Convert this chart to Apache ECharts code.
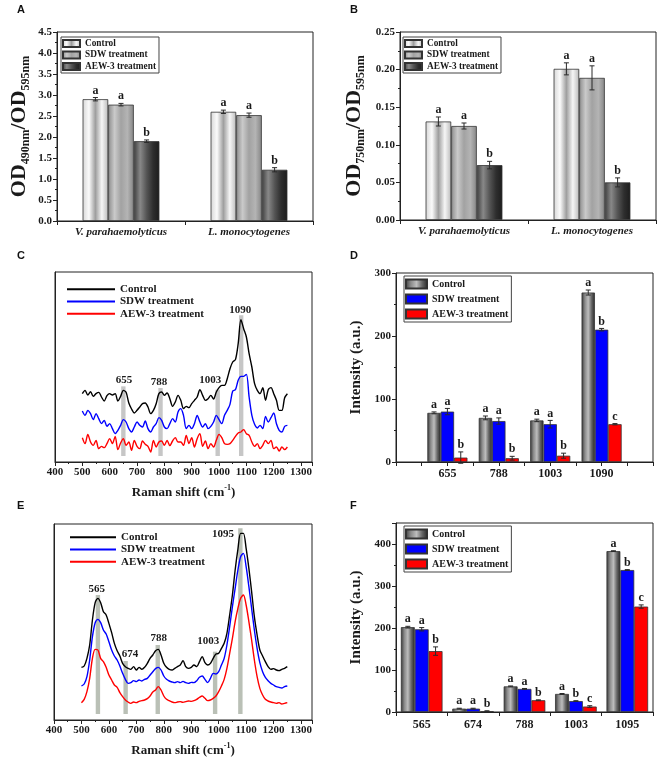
<!DOCTYPE html>
<html>
<head>
<meta charset="utf-8">
<script src="https://cdn.jsdelivr.net/npm/echarts@6/dist/echarts.min.js"></script>
<style>
html, body { margin: 0; padding: 0; background: #fff; }
#fig { width: 666px; height: 759px; }
</style>
</head>
<body>
<div id="fig"></div>
<script>
// ---------------- data ----------------
var treatments = ['Control', 'SDW treatment', 'AEW-3 treatment'];
var strains = ['V. parahaemolyticus', 'L. monocytogenes'];

// A : OD490/OD595 (rows = treatment, cols = strain)
var odA = [[2.90, 2.60], [2.77, 2.52], [1.90, 1.22]];
var odAErr = [[0.04, 0.04], [0.03, 0.05], [0.03, 0.05]];
var odALetters = [['a', 'a'], ['a', 'a'], ['b', 'b']];

// B : OD750/OD595
var odB = [[0.131, 0.201], [0.125, 0.189], [0.073, 0.050]];
var odBErr = [[0.006, 0.008], [0.004, 0.016], [0.005, 0.006]];
var odBLetters = [['a', 'a'], ['a', 'a'], ['b', 'b']];

// C / E : Raman spectra (arbitrary offset units)
var ramanShift = [500, 510, 520, 530, 540, 550, 560, 570, 580, 590,
  600, 610, 620, 630, 640, 650, 660, 670, 680, 690,
  700, 710, 720, 730, 740, 750, 760, 770, 780, 790,
  800, 810, 820, 830, 840, 850, 860, 870, 880, 890,
  900, 910, 920, 930, 940, 950, 960, 970, 980, 990,
  1000, 1010, 1020, 1030, 1040, 1050, 1060, 1070, 1080, 1090,
  1100, 1110, 1120, 1130, 1140, 1150, 1160, 1170, 1180, 1190,
  1200, 1210, 1220, 1230, 1240, 1250];

var specCControl = [205, 215, 201, 211, 197, 205, 209, 195, 183, 199,
  205, 201, 205, 183, 197, 215, 209, 177, 159, 147,
  155, 165, 175, 177, 165, 145, 155, 175, 205, 210,
  200, 207, 190, 167, 180, 200, 185, 160, 167, 163,
  175, 185, 195, 217, 200, 185, 190, 200, 189, 210,
  223, 230, 230, 250, 280, 300, 307, 355, 427, 400,
  375, 325, 285, 235, 215, 205, 223, 185, 217, 223,
  205, 185, 155, 155, 193, 205];
var specCSdw = [153, 140, 155, 145, 127, 145, 130, 115, 125, 107,
  115, 100, 85, 95, 110, 127, 120, 100, 90, 105,
  120, 110, 105, 123, 100, 90, 105, 115, 133, 125,
  105, 100, 115, 130, 120, 150, 160, 140, 100, 110,
  100, 115, 140, 120, 105, 115, 100, 107, 120, 140,
  127, 115, 140, 155, 173, 213, 217, 245, 257, 257,
  263, 195, 140, 113, 102, 110, 100, 137, 120, 133,
  147, 115, 95, 90, 107, 110];
var specCAew = [73, 55, 83, 60, 50, 65, 40, 47, 43, 55,
  70, 55, 77, 37, 57, 70, 50, 60, 35, 65,
  47, 40, 63, 53, 47, 30, 65, 45, 60, 63,
  50, 65, 49, 63, 73, 60, 60, 50, 80, 55,
  73, 45, 70, 85, 47, 63, 40, 55, 45, 65,
  83, 73, 55, 53, 55, 65, 77, 87, 90, 97,
  85, 80, 60, 47, 55, 40, 50, 65, 55, 65,
  40, 45, 33, 45, 37, 45];
var peaksC = ['655', '788', '1003', '1090'];
var bandsC = [650, 786, 995, 1081];
var bandTopsC = [227, 222, 217, 440];
var peakLabelXC = [652, 780, 968, 1078];
var peakLabelYC = [245, 240, 245, 457];

var specEControl = [158, 162, 185, 225, 300, 352, 365, 352, 325, 315,
  290, 262, 230, 208, 192, 170, 160, 155, 152, 160,
  150, 158, 152, 158, 170, 185, 195, 208, 212, 195,
  170, 158, 152, 150, 155, 160, 165, 178, 160, 155,
  158, 165, 160, 175, 190, 172, 165, 170, 185, 198,
  200, 215, 230, 260, 315, 375, 450, 512, 560, 560,
  515, 455, 385, 310, 255, 210, 192, 175, 160, 152,
  154, 150, 148, 152, 155, 160];
var specESdw = [102, 108, 130, 180, 250, 292, 302, 292, 270, 258,
  235, 210, 192, 180, 162, 140, 122, 110, 112, 118,
  115, 120, 117, 122, 125, 135, 145, 154, 158, 150,
  132, 122, 117, 114, 112, 115, 112, 116, 112, 110,
  113, 112, 118, 128, 132, 122, 112, 125, 140, 138,
  145, 165, 185, 225, 280, 340, 395, 450, 490, 500,
  460, 400, 335, 270, 215, 172, 145, 128, 118, 110,
  105, 100, 98, 96, 100, 102];
var specEAew = [52, 62, 85, 125, 185, 212, 210, 185, 175, 158,
  135, 120, 105, 98, 82, 70, 60, 54, 50, 54,
  52, 56, 58, 60, 64, 72, 84, 90, 100, 90,
  72, 62, 58, 54, 52, 54, 55, 53, 55, 57,
  56, 58, 62, 68, 72, 65, 58, 60, 65, 72,
  85, 102, 122, 155, 200, 245, 295, 335, 365, 375,
  345, 295, 240, 180, 130, 95, 75, 62, 57, 54,
  52, 50, 52, 48, 50, 52];
var peaksE = ['565', '674', '788', '1003', '1095'];
var bandsE = [560, 661, 778, 987, 1079];
var bandTopsE = [375, 177, 225, 205, 575];
var peakLabelXE = [556, 677, 782, 962, 1016];
var peakLabelYE = [392, 198, 245, 237, 557];

// D : band intensities
var peaksD = ['655', '788', '1003', '1090'];
var intensD = [[78, 70, 66, 269], [80, 65, 60, 210], [7, 6, 10, 60]];
var intensDErr = [[1.5, 3, 2, 4], [5, 5, 6, 2], [9, 3, 4, 1]];
var intensDLetters = [['a', 'a', 'a', 'a'], ['a', 'a', 'a', 'b'], ['b', 'b', 'b', 'c']];

// F : band intensities
var peaksF = ['565', '674', '788', '1003', '1095'];
var intensF = [[202, 8, 61, 43, 383], [197, 8, 55, 26, 338], [145, 2, 28, 13, 251]];
var intensFErr = [[2, 1, 1, 1, 1], [4, 1, 1, 1, 1], [10, 1, 1, 2, 4]];
var intensFLetters = [['a', 'a', 'a', 'a', 'a'], ['a', 'a', 'a', 'b', 'b'], ['b', 'b', 'b', 'c', 'c']];

// ---------------- styles ----------------
var serif = '"Liberation Serif", "Times New Roman", serif';
var ink = '#1a1a1a';

function grad(stops) {
    return {
        type: 'linear', x: 0, y: 0, x2: 1, y2: 0,
        colorStops: stops.map(function (c, i) { return { offset: i / (stops.length - 1), color: c }; })
    };
}
var grayFills = [
    grad(['#d6d6d6', '#fbfbfb', '#9e9e9e', '#f6f6f6', '#bababa']),
    grad(['#8c8c8c', '#cacaca', '#a2a2a2', '#b4b4b4', '#858585']),
    grad(['#3e3e3e', '#888888', '#555555', '#2e2e2e', '#1c1c1c'])
];
var colorFills = [
    grad(['#363636', '#8a8a8a', '#bdbdbd', '#666666', '#262626']),
    '#0000ff',
    '#ff0000'
];
var lineColors = ['#000000', '#0000ff', '#ff0000'];

// ---------------- render helpers ----------------
function errorBars(frac, k, letters) {
    return function (params, api) {
        var x = api.value(0), v = api.value(1), e = api.value(2);
        var band = api.size([1, 0])[0];
        var dx = (k - 1) * band * frac;
        var top = api.coord([x, v + e]);
        var bot = api.coord([x, v - e]);
        var cx = top[0] + dx, cap = 2.5;
        var st = { stroke: '#2a2a2a', lineWidth: 1 };
        return {
            type: 'group',
            children: [
                { type: 'line', shape: { x1: cx, y1: top[1], x2: cx, y2: bot[1] }, style: st },
                { type: 'line', shape: { x1: cx - cap, y1: top[1], x2: cx + cap, y2: top[1] }, style: st },
                { type: 'line', shape: { x1: cx - cap, y1: bot[1], x2: cx + cap, y2: bot[1] }, style: st },
                {
                    type: 'text', x: cx, y: top[1] - 1,
                    style: {
                        text: letters[params.dataIndex], textAlign: 'center', textVerticalAlign: 'bottom',
                        font: 'bold 12px ' + serif, fill: ink
                    }
                }
            ]
        };
    };
}

function bandItem(params, api) {
    var c = api.value(0), top = api.value(1);
    var p1 = api.coord([c - 8, top]);
    var p2 = api.coord([c + 8, 18]);
    return {
        type: 'rect',
        shape: { x: p1[0], y: p1[1], width: p2[0] - p1[0], height: p2[1] - p1[1] },
        style: { fill: api.visual('color') }
    };
}

function peakLabels(labels) {
    return function (params, api) {
        var p = api.coord([api.value(0), api.value(1)]);
        return {
            type: 'text', x: p[0], y: p[1],
            style: {
                text: labels[params.dataIndex], textAlign: 'center', textVerticalAlign: 'middle',
                font: 'bold 11px ' + serif, fill: ink
            }
        };
    };
}

var series = [];

function addBars(prefix, axis, cats, vals, errs, letters, fills, frac, xOf) {
    treatments.forEach(function (t, k) {
        series.push({
            name: prefix + '|' + t,
            type: 'bar',
            xAxisIndex: axis, yAxisIndex: axis,
            barWidth: (frac * 100) + '%',
            barGap: '0%',
            data: cats.map(function (c, i) { return [xOf(i), vals[k][i]]; }),
            itemStyle: { color: fills[k], borderColor: '#333', borderWidth: 0.8 }
        });
    });
    treatments.forEach(function (t, k) {
        series.push({
            type: 'custom',
            xAxisIndex: axis, yAxisIndex: axis,
            silent: true, z: 5,
            encode: { x: 0, y: 1 },
            renderItem: errorBars(frac, k, letters[k]),
            data: cats.map(function (c, i) { return [xOf(i), vals[k][i], errs[k][i]]; })
        });
    });
}

function addSpectra(prefix, axis, specs, bands, tops, bandColor, labels, lx, ly) {
    series.push({
        type: 'custom', xAxisIndex: axis, yAxisIndex: axis, silent: true, z: 1,
        encode: { x: 0, y: 1 },
        itemStyle: { color: bandColor },
        renderItem: bandItem,
        data: bands.map(function (b, i) { return [b, tops[i]]; })
    });
    treatments.forEach(function (t, k) {
        series.push({
            name: prefix + '|' + t,
            type: 'line',
            xAxisIndex: axis, yAxisIndex: axis,
            symbol: 'none', smooth: 0.3, z: 3,
            lineStyle: { color: lineColors[k], width: 1.4 },
            itemStyle: { color: lineColors[k] },
            data: ramanShift.map(function (x, i) { return [x, specs[k][i]]; })
        });
    });
    series.push({
        type: 'custom', xAxisIndex: axis, yAxisIndex: axis, silent: true, z: 4,
        encode: { x: 0, y: 1 },
        renderItem: peakLabels(labels),
        data: lx.map(function (x, i) { return [x, ly[i]]; })
    });
}

addBars('A', 0, strains, odA, odAErr, odALetters, grayFills, 0.2, function (i) { return i; });
addBars('B', 1, strains, odB, odBErr, odBLetters, grayFills, 0.2, function (i) { return i; });
addSpectra('C', 2, [specCControl, specCSdw, specCAew], bandsC, bandTopsC, '#c6c6c6', peaksC, peakLabelXC, peakLabelYC);
addBars('D', 3, peaksD, intensD, intensDErr, intensDLetters, colorFills, 0.26, function (i) { return i + 1; });
addSpectra('E', 4, [specEControl, specESdw, specEAew], bandsE, bandTopsE, '#bac0b6', peaksE, peakLabelXE, peakLabelYE);
addBars('F', 5, peaksF, intensF, intensFErr, intensFLetters, colorFills, 0.27, function (i) { return i; });

// ---------------- axes ----------------
var labelFont = { fontFamily: serif, fontWeight: 'bold', fontSize: 11, color: ink };
var axLine = { show: true, onZero: false, lineStyle: { color: '#222', width: 1 } };
var tickOut = { show: true, inside: false, length: 4, lineStyle: { color: '#222', width: 1 } };
var minorOut = { show: true, splitNumber: 2, length: 2, lineStyle: { color: '#222', width: 1 } };

var odRich = {
    o: { fontFamily: serif, fontWeight: 'bold', fontSize: 22, color: ink, lineHeight: 26 },
    s: { fontFamily: serif, fontWeight: 'bold', fontSize: 12, color: ink, lineHeight: 8, verticalAlign: 'bottom' }
};
var ramanRich = {
    t: { fontFamily: serif, fontWeight: 'bold', fontSize: 13, color: ink, lineHeight: 18 },
    p: { fontFamily: serif, fontWeight: 'bold', fontSize: 8, color: ink, lineHeight: 8, verticalAlign: 'top' }
};
var ramanName = '{t|Raman shift (cm}{p|-1}{t|)}';
var intensityName = 'Intensity (a.u.)';
var intensityStyle = { fontFamily: serif, fontWeight: 'bold', fontSize: 15, color: ink };

function catX(grid, cats, italic, margin, fs) {
    return {
        gridIndex: grid, type: 'category', data: cats, boundaryGap: true,
        axisLine: axLine, axisTick: tickOut, splitLine: { show: false },
        axisLabel: Object.assign({}, labelFont, { margin: margin, fontSize: fs, fontStyle: italic ? 'italic' : 'normal', interval: 0 })
    };
}
function ramanX(grid) {
    return {
        gridIndex: grid, type: 'value', min: 400, max: 1340, interval: 100,
        axisLine: axLine, axisTick: tickOut, minorTick: minorOut, splitLine: { show: false },
        axisLabel: Object.assign({}, labelFont, {
            margin: 5, showMaxLabel: false,
            formatter: function (v) { return String(v); }
        }),
        name: ramanName, nameLocation: 'middle', nameGap: 22,
        nameTextStyle: { rich: ramanRich }
    };
}
function valY(grid, max, step, digits, name, gap, nameStyle, showMax) {
    return {
        gridIndex: grid, type: 'value', min: 0, max: max, interval: step,
        axisLine: axLine, axisTick: tickOut, minorTick: minorOut, splitLine: { show: false },
        axisLabel: Object.assign({}, labelFont, {
            margin: 5, showMaxLabel: showMax,
            formatter: function (v) { return v.toFixed(digits); }
        }),
        name: name, nameLocation: 'middle', nameRotate: 90, nameGap: gap,
        nameTextStyle: nameStyle
    };
}
function blankY(grid, max) {
    return {
        gridIndex: grid, type: 'value', min: 0, max: max,
        axisLine: axLine, axisTick: { show: false }, axisLabel: { show: false }, splitLine: { show: false }
    };
}

var xAxes = [
    catX(0, strains, true, 6, 11),
    catX(1, strains, true, 6, 11),
    ramanX(2),
    {
        gridIndex: 3, type: 'value', min: 0, max: 5, interval: 0.5,
        axisLine: axLine, axisTick: tickOut, splitLine: { show: false },
        axisLabel: Object.assign({}, labelFont, {
            margin: 6, fontSize: 12,
            formatter: function (v) {
                var i = Math.round(v);
                return (Math.abs(v - i) < 1e-6 && i >= 1 && i <= peaksD.length) ? peaksD[i - 1] : '';
            }
        })
    },
    ramanX(4),
    catX(5, peaksF, false, 7, 12)
];
var yAxes = [
    valY(0, 4.5, 0.5, 1, '{o|OD}{s|490nm}{o|/OD}{s|595nm}', 25, { rich: odRich }, true),
    valY(1, 0.25, 0.05, 2, '{o|OD}{s|750nm}{o|/OD}{s|595nm}', 33, { rich: odRich }, true),
    blankY(2, 570),
    valY(3, 300, 100, 0, intensityName, 32, intensityStyle, true),
    blankY(4, 588),
    valY(5, 450, 100, 0, intensityName, 32, intensityStyle, false)
];

// ---------------- legends ----------------
function barLegend(prefix, left, top, w, h, gap, fs, lh) {
    return {
        left: left, top: top, orient: 'vertical', selectedMode: false,
        icon: 'rect', itemWidth: w, itemHeight: h, itemGap: gap,
        padding: [1, 3, 1, 1], borderColor: '#444', borderWidth: 1,
        data: treatments.map(function (t) { return prefix + '|' + t; }),
        formatter: function (n) { return n.split('|')[1]; },
        textStyle: { fontFamily: serif, fontWeight: 'bold', fontSize: fs, lineHeight: lh, color: ink }
    };
}
function lineLegend(prefix, left, top, w) {
    return {
        left: left, top: top, orient: 'vertical', selectedMode: false,
        icon: 'rect', itemWidth: w, itemHeight: 2, itemGap: 0, padding: 0,
        data: treatments.map(function (t) { return prefix + '|' + t; }),
        formatter: function (n) { return n.split('|')[1]; },
        textStyle: { fontFamily: serif, fontWeight: 'bold', fontSize: 11, lineHeight: 12.3, color: ink }
    };
}

var panelLetter = function (t, l, tp) {
    return {
        text: t, left: l, top: tp, padding: 0,
        textStyle: { fontFamily: '"Liberation Sans", Arial, sans-serif', fontWeight: 'bold', fontSize: 11, color: '#111' }
    };
};

var grids = [
    { left: 57, top: 32, width: 256, height: 189 },
    { left: 400, top: 32, width: 256, height: 188 },
    { left: 55, top: 272, width: 257, height: 190 },
    { left: 396, top: 273, width: 257, height: 189 },
    { left: 54, top: 524, width: 258, height: 196 },
    { left: 396, top: 523, width: 257, height: 189 }
].map(function (g) {
    return Object.assign(g, { show: true, borderColor: '#222', borderWidth: 1, backgroundColor: 'transparent', containLabel: false, outerBoundsMode: 'none' });
});

var chart = echarts.init(document.getElementById('fig'), null, { renderer: 'canvas' });
chart.setOption({
    animation: false,
    backgroundColor: '#ffffff',
    title: [
        panelLetter('A', 17, 4), panelLetter('B', 350, 4),
        panelLetter('C', 17, 250), panelLetter('D', 350, 250),
        panelLetter('E', 17, 500), panelLetter('F', 350, 500)
    ],
    legend: [
        barLegend('A', 61, 37, 17, 7, 0.5, 9.3, 11),
        barLegend('B', 403, 37, 17, 7, 0.5, 9.3, 11),
        lineLegend('C', 67, 283, 48),
        barLegend('D', 404, 276, 21, 9, 1, 10, 14),
        lineLegend('E', 70, 531, 46),
        barLegend('F', 404, 526, 21, 9, 1, 10, 14)
    ],
    grid: grids,
    xAxis: xAxes,
    yAxis: yAxes,
    series: series
});
</script>
</body>
</html>
